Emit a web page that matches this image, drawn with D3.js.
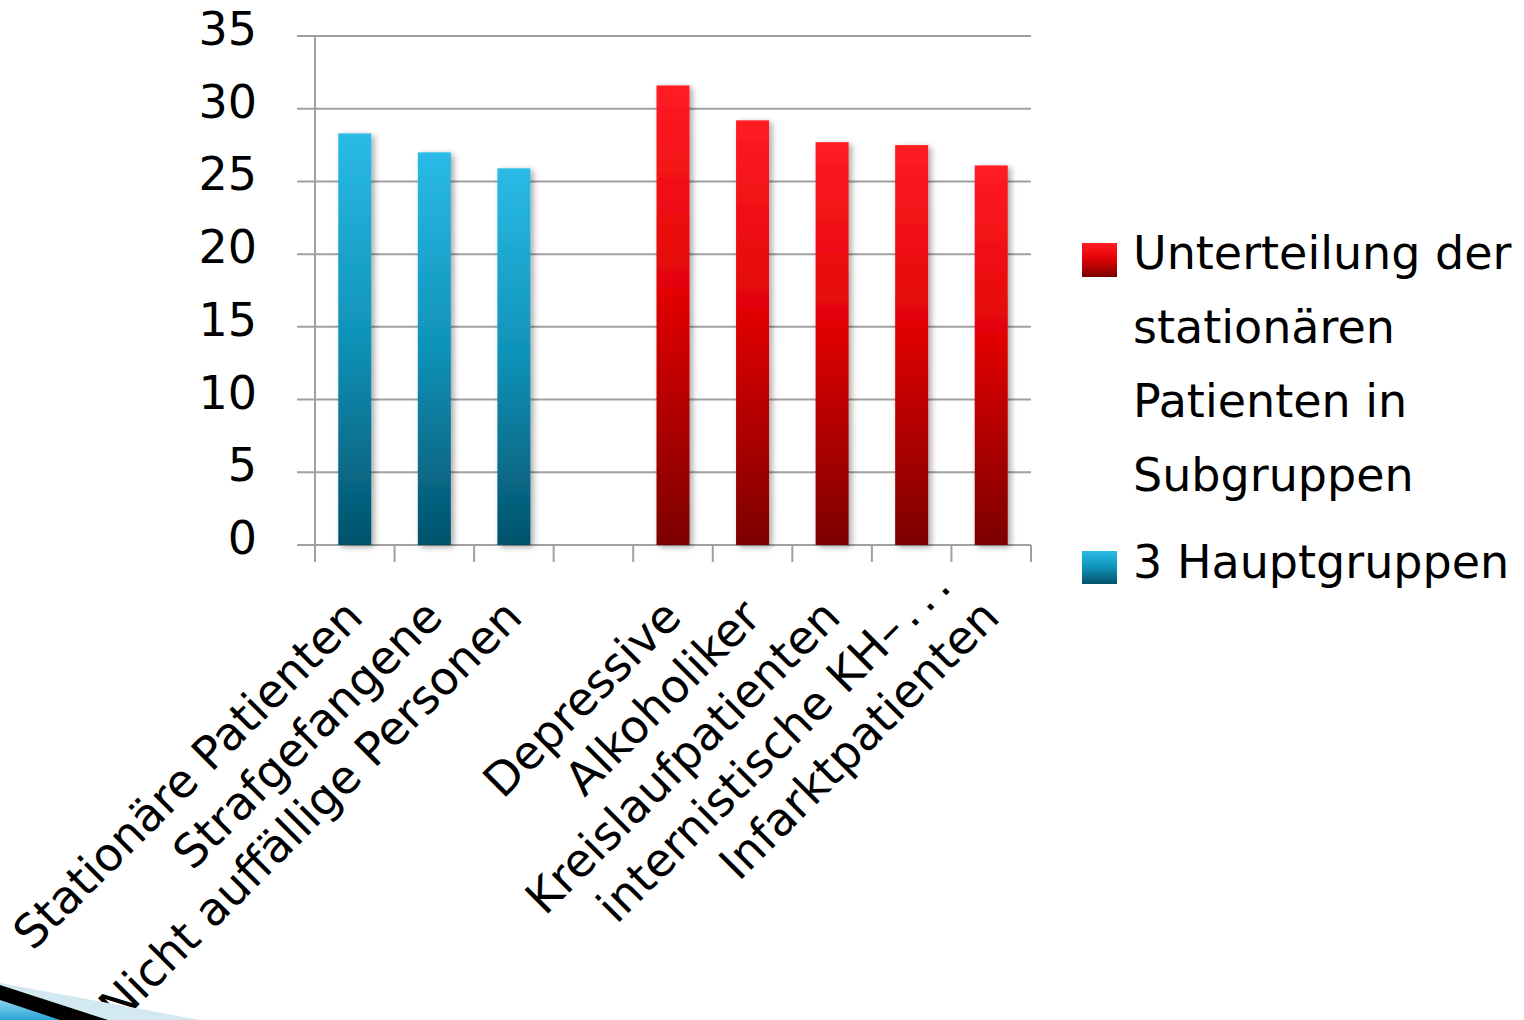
<!DOCTYPE html>
<html>
<head>
<meta charset="utf-8">
<script src="https://cdn.jsdelivr.net/npm/d3@7/dist/d3.min.js"></script>
<style>
  html, body { margin: 0; padding: 0; background: #ffffff; }
  svg { display: block; }
  text { font-family: "DejaVu Sans", Verdana, sans-serif; fill: #000; }
</style>
</head>
<body>
<svg id="chart" width="1524" height="1020"></svg>
<script>
// Category slots (one empty slot separates the two groups)
const categories = [
  "Stationäre Patienten",
  "Strafgefangene",
  "Nicht auffällige Personen",
  "",
  "Depressive",
  "Alkoholiker",
  "Kreislaufpatienten",
  "internistische KH–...",
  "Infarktpatienten"
];

// Series values per slot (null = no bar)
const hauptgruppen = [28.3, 27.0, 25.9, null, null, null, null, null, null];
const subgruppen   = [null, null, null, null, 31.6, 29.2, 27.7, 27.5, 26.1];

const yTicks = [0, 5, 10, 15, 20, 25, 30, 35];

const seriesNames = {
  sub: ["Unterteilung der", "stationären", "Patienten in", "Subgruppen"],
  haupt: ["3 Hauptgruppen"]
};

const svg = d3.select("#chart");
const margin = { left: 315, right: 1031, top: 36, bottom: 545 };

const x = d3.scaleBand()
  .domain(d3.range(categories.length))
  .range([margin.left, margin.right])
  .paddingInner(0)
  .paddingOuter(0);

const y = d3.scaleLinear().domain([0, 35]).range([margin.bottom, margin.top]);

const defs = svg.append("defs");

function gradient(id, stops) {
  const g = defs.append("linearGradient")
    .attr("id", id).attr("x1", 0).attr("y1", 0).attr("x2", 0).attr("y2", 1);
  stops.forEach(([o, c]) => g.append("stop").attr("offset", o).attr("stop-color", c));
}
gradient("gBlue", [[0, "#2abbe6"], [0.5, "#0f92b8"], [1, "#03526b"]]);
gradient("gRed", [[0, "#ff1c24"], [0.45, "#e20406"], [1, "#7c0000"]]);
gradient("gSwoosh", [[0, "#8fd3ee"], [1, "#2aa6d6"]]);

const shadow = defs.append("filter").attr("id", "shadow")
  .attr("x", "-40%").attr("y", "-10%").attr("width", "180%").attr("height", "130%");
shadow.append("feGaussianBlur").attr("in", "SourceAlpha").attr("stdDeviation", 3).attr("result", "b");
shadow.append("feOffset").attr("in", "b").attr("dx", 3).attr("dy", 2).attr("result", "o");
shadow.append("feComponentTransfer").attr("in", "o").attr("result", "s")
  .append("feFuncA").attr("type", "linear").attr("slope", 0.35);
const merge = shadow.append("feMerge");
merge.append("feMergeNode").attr("in", "s");
merge.append("feMergeNode").attr("in", "SourceGraphic");

// Gridlines + y labels
const grid = svg.append("g");
grid.selectAll("line.grid")
  .data(yTicks)
  .join("line")
  .attr("x1", 297).attr("x2", margin.right)
  .attr("y1", d => y(d)).attr("y2", d => y(d))
  .attr("stroke", "#a0a0a0").attr("stroke-width", 2);

grid.selectAll("text.ylab")
  .data(yTicks)
  .join("text")
  .attr("x", 257)
  .attr("y", d => y(d) + 9)
  .attr("text-anchor", "end")
  .attr("font-size", 46)
  .text(d => d);

// Y axis line
svg.append("line")
  .attr("x1", margin.left).attr("x2", margin.left)
  .attr("y1", margin.top).attr("y2", margin.bottom + 17)
  .attr("stroke", "#a0a0a0").attr("stroke-width", 2);

// X tick marks at slot boundaries
const bounds = d3.range(categories.length + 1).map(i =>
  i < categories.length ? x(i) : x(categories.length - 1) + x.bandwidth());
svg.selectAll("line.xtick")
  .data(bounds)
  .join("line")
  .attr("x1", d => d).attr("x2", d => d)
  .attr("y1", margin.bottom).attr("y2", margin.bottom + 17)
  .attr("stroke", "#a0a0a0").attr("stroke-width", 2);

// Bars
const barW = 33;
function drawBars(values, fill) {
  svg.append("g").attr("filter", "url(#shadow)")
    .selectAll("rect")
    .data(values.map((v, i) => ({ v, i })).filter(d => d.v != null))
    .join("rect")
    .attr("x", d => x(d.i) + x.bandwidth() / 2 - barW / 2)
    .attr("width", barW)
    .attr("y", d => y(d.v))
    .attr("height", d => y(0) - y(d.v))
    .attr("fill", fill);
}
drawBars(hauptgruppen, "url(#gBlue)");
drawBars(subgruppen, "url(#gRed)");

// Rotated category labels; the truncated label sits a little further out
const labels = svg.selectAll("text.xlab")
  .data(categories.map((c, i) => ({ c, i })).filter(d => d.c))
  .join("text")
  .attr("font-size", 46)
  .attr("text-anchor", "end")
  .attr("transform", d => {
    const shift = d.c.endsWith("...") ? 36 : 0;
    return `translate(${x(d.i) + x.bandwidth() / 2 - 1 + shift},${608 - shift}) rotate(-45)`;
  })
  .attr("dy", "0.35em");

labels.each(function (d) {
  const t = d3.select(this);
  if (d.c.endsWith("...")) {
    t.append("tspan").text(d.c.slice(0, -3));
    t.append("tspan").attr("letter-spacing", 7).attr("dx", 6).text("...");
  } else {
    t.text(d.c);
  }
});

// Legend
const leg = svg.append("g");
leg.append("rect").attr("x", 1082).attr("y", 243).attr("width", 35).attr("height", 34)
  .attr("fill", "url(#gRed)");
leg.selectAll("text.sub")
  .data(seriesNames.sub)
  .join("text")
  .attr("x", 1133)
  .attr("y", (d, i) => 269 + i * 74)
  .attr("font-size", 46)
  .text(d => d);
leg.append("rect").attr("x", 1082).attr("y", 551).attr("width", 35).attr("height", 33)
  .attr("fill", "url(#gBlue)");
leg.append("text").attr("x", 1133).attr("y", 578).attr("font-size", 46)
  .text(seriesNames.haupt[0]);

// Decorative corner swoosh
const deco = svg.append("g");
deco.append("path").attr("d", "M0,983 L200,1020 L0,1020 Z").attr("fill", "#d3e9f2");
deco.append("path").attr("d", "M0,985 L108,1020 L0,1020 Z").attr("fill", "#000");
deco.append("path").attr("d", "M0,1000 L60,1020 L0,1020 Z").attr("fill", "url(#gSwoosh)");
</script>
</body>
</html>
